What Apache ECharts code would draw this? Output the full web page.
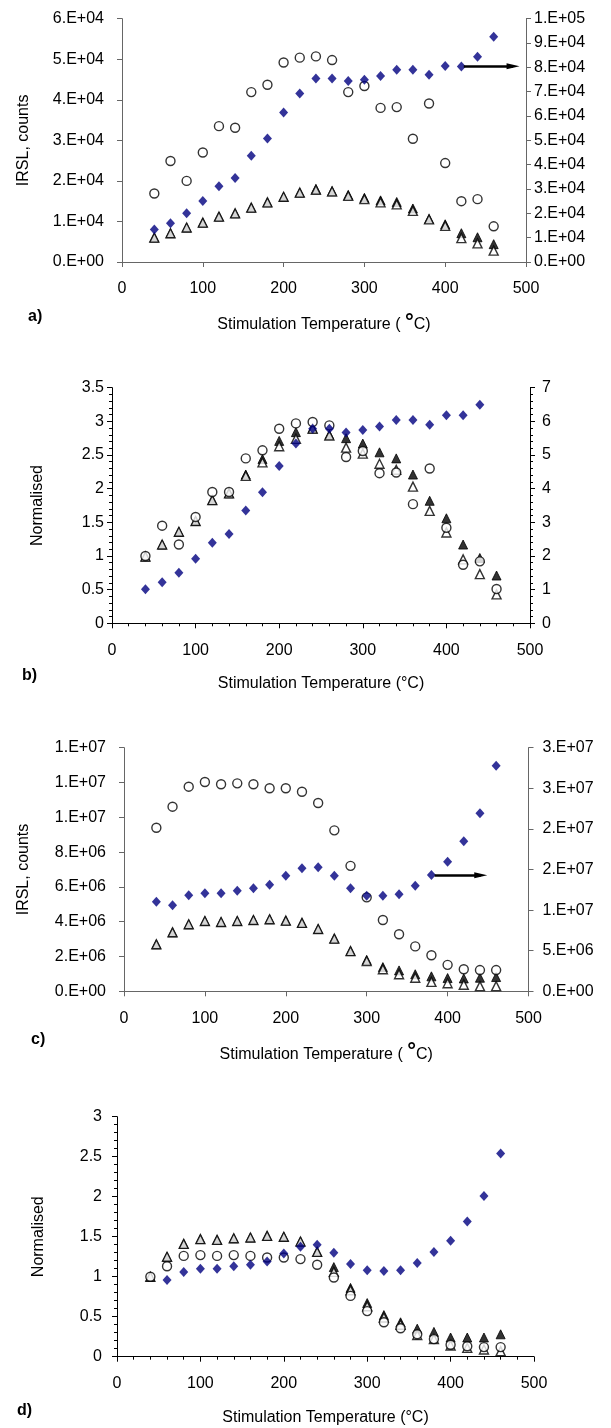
<!DOCTYPE html>
<html><head><meta charset="utf-8">
<script src="https://cdn.jsdelivr.net/npm/echarts@6/dist/echarts.min.js"></script>
<style>html,body{margin:0;padding:0;background:#fff}#c{width:611px;height:1428px}</style>
</head><body><div id="c"></div>
<script>
// ---- data ----
const temps = [40,60,80,100,120,140,160,180,200,220,240,260,280,300,320,340,360,380,400,420,440,460];
const tickLabelsX = [0,100,200,300,400,500];
// panel a (counts); diamonds on right axis
const aCircle   = [16900,24900,20000,27000,33500,33100,41900,43700,49200,50400,50700,49800,41900,43400,38000,38200,30400,39100,24400,15000,15500,8800];
const aOpenTri  = [6000,7100,8500,9700,11200,12000,13400,14700,16100,17100,17800,17400,16300,15500,14700,14200,12600,10500,8900,5900,4600,2800];
const aFillTri  = [6000,7100,8500,9700,11200,12000,13400,14700,16100,17100,18000,17500,16500,15800,15200,14800,13200,10600,9300,7100,6100,4400];
const aDiamond  = [13400,15900,20000,25100,31100,34500,43700,50800,61400,69300,75400,75400,74400,74900,76400,79000,79000,77000,80600,80400,84400,92600];
const aArrow    = [[423,80500],[484,80500]];
// panel b (normalised); diamonds on right axis
const bCircle   = [1.00,1.45,1.17,1.58,1.95,1.95,2.45,2.57,2.89,2.97,2.99,2.94,2.47,2.56,2.23,2.24,1.77,2.30,1.42,0.87,0.92,0.51];
const bOpenTri  = [0.99,1.17,1.36,1.52,1.83,1.93,2.19,2.39,2.63,2.74,2.89,2.79,2.61,2.52,2.37,2.28,2.03,1.67,1.35,0.95,0.73,0.43];
const bFillTri  = [0.99,1.17,1.36,1.52,1.83,1.93,2.21,2.44,2.71,2.84,2.90,2.80,2.75,2.67,2.54,2.45,2.21,1.82,1.56,1.17,0.97,0.71];
const bDiamond  = [1.01,1.22,1.50,1.92,2.39,2.65,3.35,3.89,4.67,5.34,5.78,5.78,5.67,5.74,5.85,6.04,6.04,5.90,6.18,6.18,6.49,null];
// panel c (counts); diamonds on right axis
const cCircle   = [9.40e6,10.61e6,11.76e6,12.03e6,11.90e6,11.95e6,11.90e6,11.67e6,11.67e6,11.47e6,10.82e6,9.25e6,7.21e6,5.40e6,4.10e6,3.28e6,2.58e6,2.07e6,1.52e6,1.27e6,1.22e6,1.22e6];
const cOpenTri  = [2.70e6,3.39e6,3.85e6,4.04e6,3.98e6,4.04e6,4.10e6,4.14e6,4.06e6,3.93e6,3.58e6,3.03e6,2.31e6,1.74e6,1.27e6,0.98e6,0.78e6,0.54e6,0.46e6,0.38e6,0.30e6,0.30e6];
const cFillTri  = [2.70e6,3.39e6,3.85e6,4.04e6,3.98e6,4.04e6,4.10e6,4.14e6,4.06e6,3.93e6,3.58e6,3.03e6,2.31e6,1.80e6,1.39e6,1.20e6,0.98e6,0.86e6,0.76e6,0.74e6,0.78e6,0.82e6];
const cDiamond  = [11.03e6,10.59e6,11.82e6,12.07e6,12.07e6,12.39e6,12.68e6,13.13e6,14.24e6,15.15e6,15.27e6,14.24e6,12.68e6,11.77e6,11.77e6,11.95e6,13.00e6,14.32e6,15.96e6,18.47e6,21.92e6,27.78e6];
const cArrow    = [[384,14.3e6],[441,14.3e6]];
// panel d (normalised)
const dCircle   = [1.00,1.13,1.26,1.27,1.26,1.27,1.26,1.24,1.24,1.22,1.15,0.99,0.76,0.57,0.43,0.355,0.28,0.22,0.15,0.13,0.12,0.12];
const dOpenTri  = [1.00,1.25,1.41,1.47,1.46,1.48,1.49,1.51,1.50,1.44,1.31,1.06,0.83,0.63,0.49,0.40,0.27,0.22,0.14,0.11,0.09,0.07];
const dFillTri  = [1.00,1.25,1.41,1.47,1.46,1.48,1.49,1.51,1.50,1.44,1.31,1.12,0.86,0.67,0.52,0.43,0.35,0.31,0.24,0.24,0.24,0.28];
const dDiamond  = [null,0.96,1.06,1.10,1.10,1.13,1.15,1.19,1.29,1.375,1.40,1.30,1.16,1.08,1.07,1.08,1.17,1.31,1.45,1.69,2.01,2.54];

// ---- helpers ----
const FONT = "'Liberation Sans', Arial, sans-serif";
function sci0(v){
  if (v === 0) return '0.E+00';
  let e = Math.floor(Math.log10(Math.abs(v)) + 1e-12);
  let m = v / Math.pow(10, e);
  let mr = Math.round(m + 1e-9);
  if (mr >= 10) { mr = 1; e += 1; }
  return mr + '.E' + (e >= 0 ? '+' : '-') + String(Math.abs(e)).padStart(2, '0');
}
function pts(vals){ return temps.map((t,i)=>[t, vals[i]]).filter(p=>p[1]!=null); }

const grids = [
  {left:122, top:18.7,  width:404,   height:243.3},
  {left:112, top:387.7, width:418,   height:235.6},
  {left:124, top:747.7, width:404.5, height:243.6},
  {left:117, top:1116.7,width:417,   height:240}
];
const axColor = ['#666','#000','#666','#000'];
const minor = [false,true,false,true];
const xNames = [
  'Stimulation Temperature ( {deg|°}C)',
  'Stimulation Temperature (°C)',
  'Stimulation Temperature ( {deg|°}C)',
  'Stimulation Temperature (°C)'
];
const xGaps = [50,52,50,53];

const xAxes = grids.map((g,i)=>({
  type:'value', gridIndex:i, min:tickLabelsX[0], max:tickLabelsX[tickLabelsX.length-1], interval:100,
  axisLine:{show:true,onZero:false,lineStyle:{color:axColor[i],width:1}},
  axisTick:{show:true,length:5,lineStyle:{color:axColor[i]}},
  minorTick:{show:minor[i],splitNumber:5,length:3,lineStyle:{color:axColor[i]}},
  splitLine:{show:false},
  axisLabel:{color:'#000',fontSize:16,fontFamily:FONT,margin:19},
  name:xNames[i], nameLocation:'middle', nameGap:xGaps[i],
  nameTextStyle:{color:'#000',fontSize:16,fontFamily:FONT,
    rich:{deg:{fontSize:22,fontWeight:'bold',fontFamily:FONT,color:'#000',padding:[0,0,4,0]}}}
}));

function yAx(grid, pos, min, max, interval, fmt, name, gap, lblMargin, showMinor, color){
  return {
    type:'value', gridIndex:grid, position:pos, min:min, max:max, interval:interval,
    axisLine:{show:true,lineStyle:{color:color,width:1}},
    axisTick:{show:true,length:5,lineStyle:{color:color}},
    minorTick:{show:showMinor,splitNumber:5,length:3,lineStyle:{color:color}},
    splitLine:{show:false},
    axisLabel:{color:'#000',fontSize:16,fontFamily:FONT,margin:lblMargin,formatter:fmt},
    name:name, nameLocation:'middle', nameGap:gap,
    nameTextStyle:{color:'#000',fontSize:16,fontFamily:FONT}
  };
}
const yAxes = [
  yAx(0,'left',0,60000,10000,sci0,'IRSL, counts',90,18,false,'#666'),
  yAx(0,'right',0,100000,10000,sci0,'',0,8,false,'#666'),
  yAx(1,'left',0,3.5,0.5,null,'Normalised',66,8,true,'#000'),
  yAx(1,'right',0,7,1,null,'',0,12,true,'#000'),
  yAx(2,'left',0,1.4e7,2e6,sci0,'IRSL, counts',92,18,false,'#666'),
  yAx(2,'right',0,3e7,5e6,sci0,'',0,14,false,'#666'),
  yAx(3,'left',0,3,0.5,null,'Normalised',70,15,true,'#000')
];

function sFill(xi, yi, vals){ return {type:'scatter', xAxisIndex:xi, yAxisIndex:yi, data:pts(vals), symbol:'triangle', symbolSize:9,
  itemStyle:{color:'#000',borderColor:'#000',borderWidth:1}}; }
function sOpen(xi, yi, vals){ return {type:'scatter', xAxisIndex:xi, yAxisIndex:yi, data:pts(vals), symbol:'triangle', symbolSize:9,
  itemStyle:{color:'#fff',borderColor:'#000',borderWidth:1.4}}; }
function sCirc(xi, yi, vals){ return {type:'scatter', xAxisIndex:xi, yAxisIndex:yi, data:pts(vals), symbol:'circle', symbolSize:9,
  itemStyle:{color:'#fff',borderColor:'#000',borderWidth:1.4}}; }
function sDia(xi, yi, vals, arrow){
  const s = {type:'scatter', xAxisIndex:xi, yAxisIndex:yi, data:pts(vals), symbol:'diamond', symbolSize:[9,10],
    itemStyle:{color:'#000080'}};
  if (arrow) {
    s.markLine = {silent:true, symbol:['none','triangle'], symbolSize:[6,13], label:{show:false},
      lineStyle:{color:'#000',width:2.5,type:'solid'},
      data:[[{coord:arrow[0]},{coord:arrow[1]}]]};
  }
  return s;
}

const series = [
  sFill(0,0,aFillTri), sOpen(0,0,aOpenTri), sCirc(0,0,aCircle), sDia(0,1,aDiamond,aArrow),
  sFill(1,2,bFillTri), sOpen(1,2,bOpenTri), sCirc(1,2,bCircle), sDia(1,3,bDiamond,null),
  sFill(2,4,cFillTri), sOpen(2,4,cOpenTri), sCirc(2,4,cCircle), sDia(2,5,cDiamond,cArrow),
  sFill(3,6,dFillTri), sOpen(3,6,dOpenTri), sCirc(3,6,dCircle), sDia(3,6,dDiamond,null)
];

const panelLabels = [['a)',28,309],['b)',22,668],['c)',31,1032],['d)',17,1403]];
const graphic = panelLabels.map(p=>({type:'text', left:p[1], top:p[2],
  style:{text:p[0], font:"bold 16px 'Liberation Sans', Arial, sans-serif", fill:'#000'}}));

const chart = echarts.init(document.getElementById('c'), null, {renderer:'canvas'});
chart.setOption({
  animation:false,
  backgroundColor:'#fff',
  textStyle:{fontFamily:FONT},
  grid:grids.map(g=>Object.assign({containLabel:false},g)),
  xAxis:xAxes, yAxis:yAxes, series:series, graphic:graphic
});
</script></body></html>
